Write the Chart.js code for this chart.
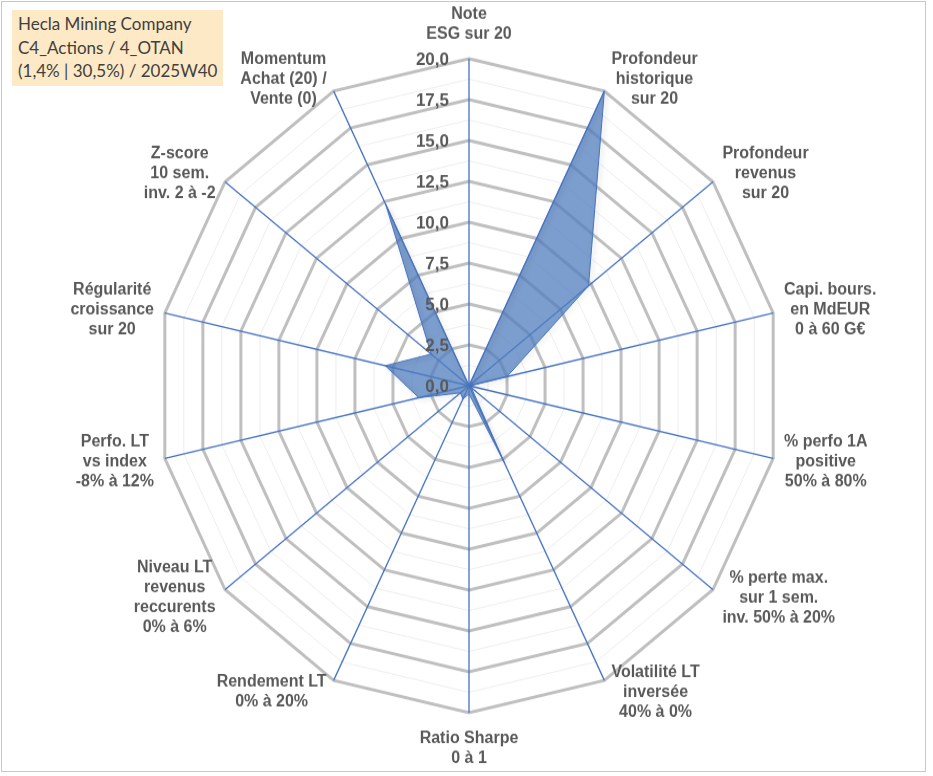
<!DOCTYPE html>
<html>
<head>
<meta charset="utf-8">
<script src="https://cdn.jsdelivr.net/npm/chart.js@4/dist/chart.umd.min.js"></script>
<style>
  body { margin: 0; background: #fff; }
  #frame {
    position: absolute; left: 1px; top: 1px; width: 925px; height: 771px;
    border: 1px solid #c8c8c8; box-sizing: border-box;
  }
  #title {
    position: absolute; left: 12px; top: 10px; width: 211px; height: 76px;
    background: #fde9c6; color: #404040;
    font-family: Lato, "Open Sans", sans-serif; font-size: 17px; line-height: 23.5px;
    padding: 2px 0 0 6px; box-sizing: border-box; z-index: 2;
  }
  /* the original chart is slightly taller than wide: stretch vertically */
  #wrap {
    position: absolute; left: 0; top: 0; width: 933px; height: 740px;
    transform: scaleY(1.0481); transform-origin: 0 0;
  }
</style>
</head>
<body>
<div id="frame"></div>
<div id="wrap"><canvas id="radar-chart-canvas"></canvas></div>
<div id="title">Hecla Mining Company<br>C4_Actions / 4_OTAN<br>(1,4% | 30,5%) / 2025W40</div>
<script>
const axisLabels = [
  ["Note", "ESG sur 20"],
  ["Profondeur", "historique", "sur 20"],
  ["Profondeur", "revenus", "sur 20"],
  ["Capi. bours.", "en MdEUR", "0 à 60 G€"],
  ["% perfo 1A", "positive", "50% à 80%"],
  ["% perte max.", "sur 1 sem.", "inv. 50% à 20%"],
  ["Volatilité LT", "inversée", "40% à 0%"],
  ["Ratio Sharpe", "0 à 1"],
  ["Rendement LT", "0% à 20%"],
  ["Niveau LT", "revenus", "reccurents", "0% à 6%"],
  ["Perfo. LT", "vs index", "-8% à 12%"],
  ["Régularité", "croissance", "sur 20"],
  ["Z-score", "10 sem.", "inv. 2 à -2"],
  ["Momentum", "Achat (20) /", "Vente (0)"],
];
const scores = [0, 20, 9.8, 2.5, 0, 0.2, 5.2, 0.5, 0.9, 0.7, 3.3, 5.5, 3.1, 12.3];
const tickValues = [0, 2.5, 5, 7.5, 10, 12.5, 15, 17.5, 20];

// tick labels sit left of the vertical axis, like the Excel original
const tickLabelPlugin = {
  id: "tickLabels",
  afterDatasetsDraw(chart) {
    const scale = chart.scales.r;
    const ctx = chart.ctx;
    ctx.save();
    ctx.font = "bold 17px 'Liberation Sans', Arial, sans-serif";
    ctx.fillStyle = "#595959";
    ctx.textAlign = "right";
    ctx.textBaseline = "middle";
    tickValues.forEach((v) => {
      const d = scale.getDistanceFromCenterForValue(v);
      ctx.fillText(v.toFixed(1).replace(".", ","), scale.xCenter - 20, scale.yCenter - d + 1);
    });
    ctx.restore();
  },
};

// centred multi-line axis titles placed around the outer ring
const axisTitlePlugin = {
  id: "axisTitles",
  afterDraw(chart) {
    const scale = chart.scales.r;
    const ctx = chart.ctx;
    const lineH = 19;
    ctx.save();
    ctx.font = "bold 16px 'Liberation Sans', Arial, sans-serif";
    ctx.fillStyle = "#595959";
    ctx.textAlign = "center";
    ctx.textBaseline = "middle";
    axisLabels.forEach((lines, i) => {
      const pos = scale.getPointPosition(i, scale.drawingArea);
      const ux = (pos.x - scale.xCenter) / scale.drawingArea;
      const uy = (pos.y - scale.yCenter) / scale.drawingArea;
      const w = Math.max(...lines.map((l) => ctx.measureText(l).width));
      const h = lines.length * lineH;
      let cx, cy;
      if (Math.abs(ux) < 0.1) {
        cx = pos.x;
        cy = uy < 0 ? pos.y - 14 - h / 2 : pos.y + 15 + h / 2;
      } else {
        const gap = 4 + 7 * Math.abs(ux);
        cx = ux > 0 ? pos.x + gap + w / 2 : pos.x - gap - w / 2;
        cy = pos.y + uy * 12.5;
      }
      lines.forEach((l, k) => {
        ctx.fillText(l, cx, cy + (k - (lines.length - 1) / 2) * lineH);
      });
    });
    ctx.restore();
  },
};

const shadowPlugin = {
  id: "fillShadow",
  beforeDatasetDraw(chart) {
    const ctx = chart.ctx;
    ctx.save();
    ctx.shadowColor = "rgba(0,0,0,0.25)";
    ctx.shadowBlur = 5;
    ctx.shadowOffsetX = 2;
    ctx.shadowOffsetY = 2;
  },
  afterDatasetDraw(chart) {
    chart.ctx.restore();
  },
};

const ctx = document.getElementById("radar-chart-canvas").getContext("2d");
new Chart(ctx, {
  type: "radar",
  data: {
    labels: axisLabels,
    datasets: [
      {
        data: scores,
        backgroundColor: "rgba(80, 125, 190, 0.75)",
        borderColor: "#4472c4",
        borderWidth: 1,
        pointRadius: 0,
        fill: true,
      },
    ],
  },
  options: {
    responsive: true,
    maintainAspectRatio: false,
    animation: false,
    layout: { padding: { top: 56, bottom: 60, left: 5, right: 0 } },
    plugins: {
      legend: { display: false },
      tooltip: { enabled: false },
    },
    scales: {
      r: {
        min: 0,
        max: 20,
        ticks: { stepSize: 1.25, display: false },
        grid: {
          color: (c) => (c.tick && c.tick.value % 2.5 === 0 ? "#bfbfbf" : "#ededed"),
          lineWidth: (c) => (c.tick && c.tick.value % 2.5 === 0 ? 3 : 1),
        },
        angleLines: { color: "#4472c4", lineWidth: 1.3 },
        pointLabels: { display: false },
      },
    },
  },
  plugins: [shadowPlugin, tickLabelPlugin, axisTitlePlugin],
});
</script>
</body>
</html>
